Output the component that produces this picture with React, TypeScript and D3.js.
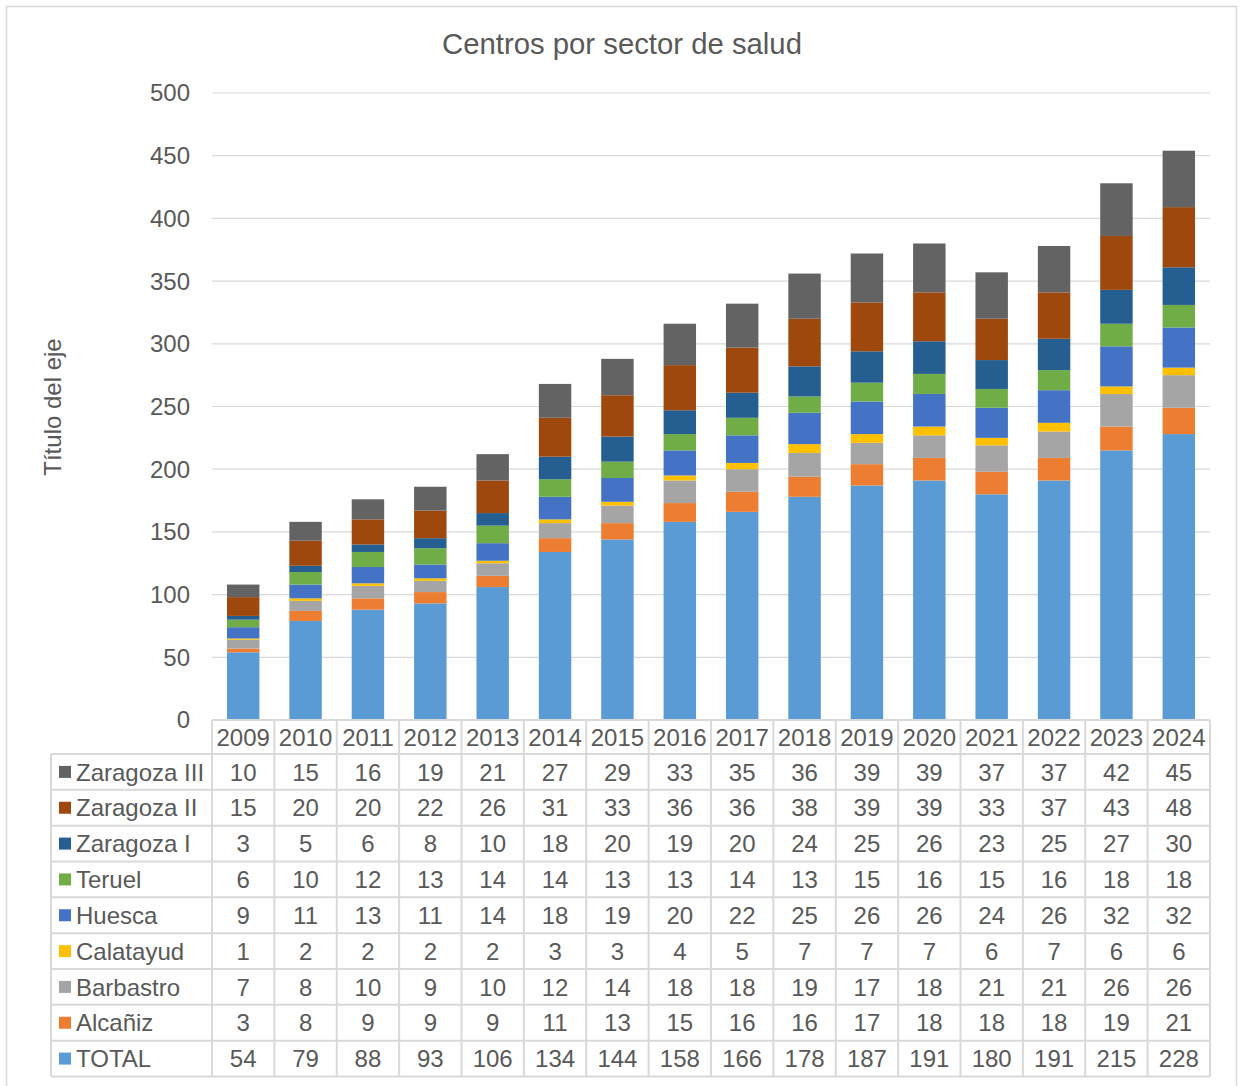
import React from "react";
import * as d3 from "d3";

const years = ["2009","2010","2011","2012","2013","2014","2015","2016","2017","2018","2019","2020","2021","2022","2023","2024"];
const total = [54,79,88,93,106,134,144,158,166,178,187,191,180,191,215,228];
const alcaniz = [3,8,9,9,9,11,13,15,16,16,17,18,18,18,19,21];
const barbastro = [7,8,10,9,10,12,14,18,18,19,17,18,21,21,26,26];
const calatayud = [1,2,2,2,2,3,3,4,5,7,7,7,6,7,6,6];
const huesca = [9,11,13,11,14,18,19,20,22,25,26,26,24,26,32,32];
const teruel = [6,10,12,13,14,14,13,13,14,13,15,16,15,16,18,18];
const zaragozaI = [3,5,6,8,10,18,20,19,20,24,25,26,23,25,27,30];
const zaragozaII = [15,20,20,22,26,31,33,36,36,38,39,39,33,37,43,48];
const zaragozaIII = [10,15,16,19,21,27,29,33,35,36,39,39,37,37,42,45];
const yTicks = [0,50,100,150,200,250,300,350,400,450,500];

const series = [
  { name: "TOTAL", values: total, color: "#5B9BD5" },
  { name: "Alcañiz", values: alcaniz, color: "#ED7D31" },
  { name: "Barbastro", values: barbastro, color: "#A5A5A5" },
  { name: "Calatayud", values: calatayud, color: "#FFC000" },
  { name: "Huesca", values: huesca, color: "#4472C4" },
  { name: "Teruel", values: teruel, color: "#70AD47" },
  { name: "Zaragoza I", values: zaragozaI, color: "#255E91" },
  { name: "Zaragoza II", values: zaragozaII, color: "#9E480E" },
  { name: "Zaragoza III", values: zaragozaIII, color: "#636363" },
];

export default function App() {
  const W = 1241, H = 1086;
  const left = 212, right = 1210, top = 93, bottom = 720;
  const x = d3.scaleBand().domain(years).range([left, right]).paddingInner(0.48).paddingOuter(0.24);
  const cols = d3.scaleBand().domain(years).range([left, right]);
  const y = d3.scaleLinear().domain([0, 500]).range([bottom, top]);
  const tableData = years.map((yr, i) => {
    const o: any = { year: yr };
    series.forEach(s => (o[s.name] = s.values[i]));
    return o;
  });
  const stack = d3.stack<any>().keys(series.map(s => s.name))(tableData);
  const headerBottom = 754;
  const rowH = (1076.5 - headerBottom) / 9;
  const rows = [...series].reverse();
  const legendLeft = 51;
  const font = "Arial, 'Liberation Sans', sans-serif";
  const txt = "#595959";
  const grid = "#D9D9D9";
  const fs = 24;
  return (
    <svg width={W} height={H} style={{ position: "absolute", left: 0, top: 0 }} fontFamily={font}>
      <rect x={0} y={0} width={W} height={H} fill="#fff" />
      <rect x={6.5} y={6.5} width={1230} height={1090} fill="none" stroke={grid} strokeWidth={1.5} />
      <text x={622} y={54} textAnchor="middle" fontSize={29.3} fill={txt}>Centros por sector de salud</text>
      {yTicks.map(t => (
        <g key={t}>
          {t > 0 && <line x1={left} x2={right} y1={y(t)} y2={y(t)} stroke={grid} strokeWidth={1.2} />}
          <text x={190} y={y(t)} dy="0.35em" textAnchor="end" fontSize={fs} fill={txt}>{t}</text>
        </g>
      ))}
      <text transform={`translate(61,407) rotate(-90)`} textAnchor="middle" fontSize={24} fill={txt}>Título del eje</text>
      {stack.map((layer, li) => (
        <g key={li} fill={series[li].color}>
          {layer.map((d, i) => (
            <rect key={i} x={x(years[i])!} width={x.bandwidth()} y={y(d[1])} height={y(d[0]) - y(d[1])} />
          ))}
        </g>
      ))}
      <g stroke={grid} strokeWidth={2} fill="none">
        <line x1={left} x2={right} y1={bottom} y2={bottom} />
        <line x1={legendLeft} x2={right} y1={headerBottom} y2={headerBottom} />
        {rows.map((_, r) => (
          <line key={r} x1={legendLeft} x2={right} y1={headerBottom + (r + 1) * rowH} y2={headerBottom + (r + 1) * rowH} />
        ))}
        <line x1={legendLeft} x2={legendLeft} y1={headerBottom} y2={headerBottom + 9 * rowH} />
        {years.map(yr => (
          <line key={yr} x1={cols(yr)!} x2={cols(yr)!} y1={bottom} y2={headerBottom + 9 * rowH} />
        ))}
        <line x1={right} x2={right} y1={bottom} y2={headerBottom + 9 * rowH} />
      </g>
      {years.map(yr => (
        <text key={yr} x={cols(yr)! + cols.bandwidth() / 2} y={(bottom + headerBottom) / 2} dy="0.36em" textAnchor="middle" fontSize={fs} fill={txt}>{yr}</text>
      ))}
      {rows.map((s, r) => {
        const cy = headerBottom + r * rowH + rowH / 2;
        return (
          <g key={s.name}>
            <rect x={59} y={cy - 6} width={12} height={12} fill={s.color} />
            <text x={76} y={cy} dy="0.36em" fontSize={fs} fill={txt}>{s.name}</text>
            {s.values.map((v, i) => (
              <text key={i} x={cols(years[i])! + cols.bandwidth() / 2} y={cy} dy="0.36em" textAnchor="middle" fontSize={fs} fill={txt}>{v}</text>
            ))}
          </g>
        );
      })}
    </svg>
  );
}
